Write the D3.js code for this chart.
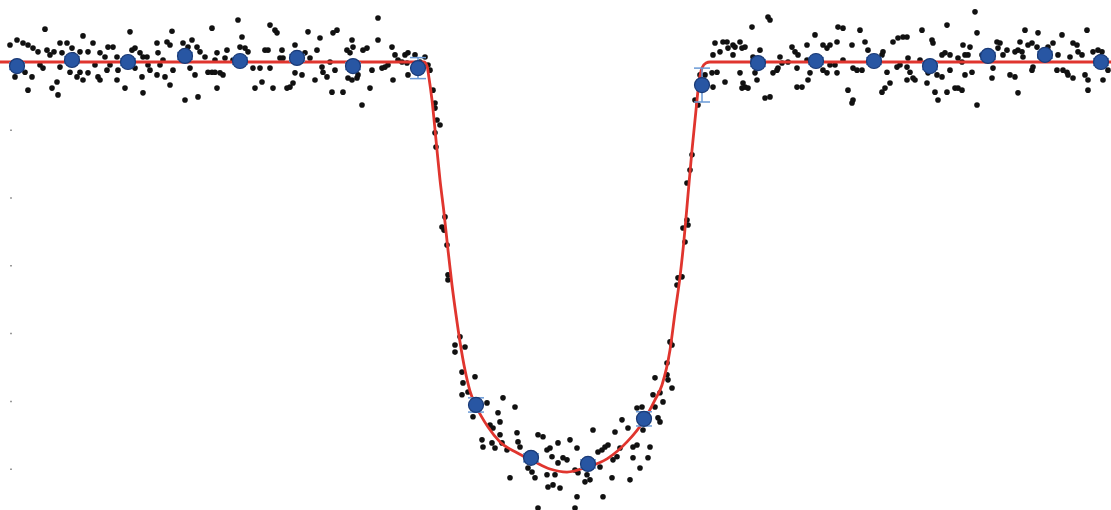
<!DOCTYPE html>
<html>
<head>
<meta charset="utf-8">
<script src="https://cdn.jsdelivr.net/npm/d3@7"></script>
<style>
  html, body { margin: 0; padding: 0; background: #fff; }
  svg { display: block; }
</style>
</head>
<body>
<svg id="chart" width="1111" height="510"></svg>
<script>
// time from mid-transit (hours), flux change (ppm)
const obsTime = [
  -5.50,-5.43,-5.37,-5.32,-5.27,-5.22,-5.15,-5.13,-5.10,-5.06,-5.00,-4.93,-4.98,-4.88,-4.87,-4.80,-4.77,-4.72,-4.67,-4.60,
  -4.55,-4.52,-4.47,-4.43,-4.30,-4.28,-4.25,-4.20,-4.17,-4.13,-4.03,-4.02,-3.97,-3.93,-3.90,-3.88,-3.77,-3.72,-3.68,-3.63,
  -3.60,-3.55,-3.48,-3.45,-5.45,-5.35,-5.28,-5.32,-5.20,-5.17,-5.08,-5.03,-5.02,-5.00,-4.90,-4.83,-4.80,-4.77,-4.72,-4.65,
  -4.62,-4.60,-4.53,-4.50,-4.43,-4.42,-4.35,-4.25,-4.18,-4.17,-4.12,-4.10,-4.03,-4.00,-3.95,-3.90,-3.87,-3.75,-3.70,-3.65,
  -3.62,-3.52,-3.48,-3.45,-3.43,
  -3.43,-3.33,-3.35,-3.40,-3.37,-3.27,-3.22,-3.18,-3.20,-3.15,-3.12,-3.07,-3.00,-3.05,-2.98,-2.95,-2.92,-2.90,-2.90,-2.85,
  -2.83,-2.87,-2.80,-2.77,-2.78,-2.73,-2.70,-2.67,-2.65,-2.65,-2.58,-2.55,-2.52,-2.50,-2.45,-2.43,-2.40,-2.38,-2.37,-2.33,
  -2.30,-2.28,-2.27,-2.23,-2.25,-2.17,-2.13,-2.10,-2.08,-2.07,-2.12,-2.08,-2.03,-2.02,-1.97,-1.93,-1.90,-1.88,-1.98,-1.82,
  -1.82,-1.78,-1.75,-1.72,-1.68,-1.67,-1.65,-1.62,-1.58,-1.55,-1.52,-1.53,-1.52,-1.45,-1.40,-1.35,-1.32,-1.30,
  -1.27,-1.25,-1.25,-1.23,-1.20,-1.25,-1.24,-1.15,-1.18,-1.16,-1.13,-1.12,-1.12,-1.00,-1.05,-0.95,-1.05,-0.98,-0.85,-0.97,
  -0.98,-0.92,-0.73,-0.57,
  -0.45,-0.87,-0.62,-0.70,-0.67,-0.60,-0.78,-0.77,-0.68,-0.65,-0.60,-0.58,-0.53,-0.43,-0.42,-0.40,-0.22,-0.17,-0.33,-0.32,
  -0.50,-0.32,-0.28,-0.25,-0.13,-0.10,-0.08,-0.02,0.03,0.10,0.17,-0.02,-0.13,-0.05,-0.12,-0.07,0.00,0.07,0.15,0.18,
  0.17,-0.22,0.15,0.27,0.25,0.30,0.33,0.38,0.42,0.45,0.48,0.40,0.43,0.53,0.57,0.52,0.55,0.60,0.62,0.68,
  0.70,0.73,0.77,0.73,0.77,0.82,0.88,0.80,0.98,1.00,0.93,0.95,1.03,1.07,1.12,0.90,0.83,
  1.00,0.95,1.08,1.10,1.12,1.07,1.17,1.18,1.22,1.23,1.25,1.27,1.28,1.27,1.30,1.32,1.35,1.38,1.40,1.45,
  1.52,1.53,
  1.53,1.55,1.57,1.60,1.63,1.67,1.65,1.68,1.73,1.75,1.73,1.80,1.82,1.85,1.80,1.82,1.85,1.83,1.88,1.92,
  1.93,1.95,1.97,2.00,2.08,2.10,2.05,2.10,2.13,2.17,2.18,2.20,2.22,2.28,2.32,2.35,2.38,2.37,2.37,2.42,
  2.47,2.47,2.48,2.50,2.55,2.63,2.67,2.63,2.67,2.70,2.70,2.75,2.78,2.83,2.77,2.77,2.83,2.88,2.92,2.93,
  2.97,3.02,2.93,2.92,3.00,3.05,3.08,3.22,3.23,3.27,3.22,3.25,3.30,3.33,3.38,3.43,3.37,3.40,
  3.47,3.47,3.48,3.50,3.53,3.47,3.55,3.62,3.60,3.72,3.73,3.67,3.68,3.75,3.78,3.77,3.82,3.82,3.85,3.90,
  3.87,3.87,3.90,3.95,3.98,4.02,3.98,4.02,4.05,4.08,4.03,4.10,4.05,4.12,4.15,4.17,4.17,4.22,4.25,4.32,
  4.33,4.37,4.40,4.38,4.43,4.47,4.50,4.55,4.55,4.58,4.62,4.58,4.60,4.65,4.63,4.68,4.72,4.72,4.73,4.78,
  4.77,4.80,4.88,4.93,4.97,4.98,5.02,5.03,5.07,5.08,5.10,5.13,5.17,5.13,5.18,5.22,5.25,5.27,5.28,5.28,
  5.33,5.38,5.42,5.40,5.43,5.48
];
const obsFlux = [
  500,650,560,500,410,300,970,350,210,300,560,560,270,410,210,300,770,300,560,270,
  150,440,440,150,890,350,410,270,150,150,560,270,60,590,500,910,560,440,650,440,
  300,150,1000,60,-440,-300,-440,-830,-90,-180,-770,-590,-970,-150,-300,-440,-300,-530,-320,-90,
  -440,-530,-240,-90,-530,-240,-770,-180,-440,-910,-90,-240,-380,-90,-440,-680,-240,-1120,-180,-380,
  -1030,-300,-300,-300,-770,
  270,350,120,-320,-380,60,1240,740,440,410,300,-180,-180,-770,-590,350,350,-180,1090,940,
  860,-770,120,120,350,-770,-740,-620,500,-320,-380,270,890,120,-530,350,710,-150,-300,-440,
  0,-890,860,940,-240,-890,350,270,650,440,-470,-530,-470,-380,350,410,-770,-240,-1270,1300,
  650,-180,-150,-90,440,-530,210,60,0,210,270,-30,-380,210,0,150,-90,-240,
  -830,-1210,-1360,-1710,-1860,-2090,-2510,-4570,-4870,-4960,-5400,-6280,-6430,-8110,-8350,-8410,-8560,-9150,-9290,-9470,
  -9820,-9740,-10060,-9910,
  -10180,-10470,-10350,-10710,-10800,-10620,-11150,-11360,-11240,-11390,-11000,-11240,-11450,-10940,-11210,-11360,-11000,-11060,-11590,-11740,
  -12270,-11980,-12100,-12270,-11450,-11390,-11650,-11240,-11680,-11150,-11390,-11830,-12180,-12180,-12540,-12480,-12570,-11740,-12040,-12120,
  -12830,-13160,-13160,-12180,-12390,-12330,-10860,-11510,-11450,-11360,-11300,-11950,-12830,-11740,-11650,-12270,-10920,-11390,-10560,-10800,
  -12330,-11360,-11300,-11680,-10210,-10180,-11680,-11980,-10500,-10620,-9820,-9320,-10030,-9230,-9620,-11360,-10860,
  -9760,-10180,-9380,-8260,-8350,-8880,-6580,-6370,-6340,-4900,-5310,-4660,-4810,-3570,-3190,-2740,-1120,-1270,-380,-380,
  -320,-740,
  210,560,-300,300,590,590,-590,410,500,440,210,590,410,440,-320,-770,-740,-620,-770,1030,
  150,-320,-530,350,1330,1240,-1060,-1030,-320,-240,-180,150,-30,0,440,300,210,-180,-740,-740,
  500,60,-530,-320,800,500,410,-240,-320,500,-90,-90,1030,1000,590,-320,60,-830,500,-180,
  -240,-240,-1120,-1210,940,590,350,210,300,-300,-890,-770,-620,590,710,740,-150,-90,
  740,-150,120,-300,-470,-530,-530,940,60,650,560,-620,-320,-890,-1120,-380,-440,210,270,210,
  1090,-890,-240,-770,-770,-830,120,0,210,210,500,440,-380,-300,1480,860,-1270,210,270,-470,
  -180,590,560,410,210,350,-380,-440,300,350,300,-910,590,940,150,500,560,-240,-150,860,
  440,150,440,560,-240,210,800,-240,-300,-380,150,560,500,-470,300,210,-380,940,-530,-830,
  300,350,300,150,-530,-240
];

// binned averages with error bars
const binTime = [-5.43,-4.88,-4.32,-3.75,-3.20,-2.63,-2.07,-1.42,-0.84,-0.29,0.28,0.84,1.42,1.98,2.56,3.14,3.70,4.28,4.85,5.41];
const binFlux = [-120,60,0,180,30,120,-120,-180,-10120,-11680,-11860,-10530,-680,-30,30,30,-120,180,210,0];
const binErr  = [100,100,100,100,100,100,100,310,210,120,120,210,500,100,100,100,100,100,100,100];

// fitted transit model
const modelTime = [-5.60,-1.36,-1.33,-1.31,-1.28,-1.24,-1.20,-1.16,-1.12,-1.08,-1.04,-1.00,-0.95,-0.90,-0.84,-0.72,-0.60,-0.43,-0.27,-0.10,
  0.07,0.27,0.47,0.67,0.83,0.95,1.02,1.10,1.15,1.20,1.24,1.28,1.32,1.36,1.39,1.42,1.46,1.50,5.51];
const modelFlux = [0,0,-120,-470,-1120,-2300,-3480,-4450,-5550,-6580,-7460,-8260,-9090,-9710,-10150,-10770,-11210,-11530,-11770,-12010,
  -12100,-11950,-11710,-11210,-10620,-9970,-9530,-8500,-7400,-6340,-5250,-3920,-2600,-1420,-590,-180,-30,0,0];

const yTicks = [-2000,-4000,-6000,-8000,-10000,-12000];

const svg = d3.select("#chart"),
    width = +svg.attr("width"),
    height = +svg.attr("height");

const x = d3.scaleLinear().domain([-5.60, 5.51]).range([0, width]);
const y = d3.scaleLinear().domain([1830, -13220]).range([0, height]);

// faint tick marks on the left edge
svg.append("g")
    .attr("transform", "translate(12,0)")
    .call(d3.axisLeft(y).tickValues(yTicks).tickSize(2).tickFormat(""))
    .call(g => g.select(".domain").remove())
    .call(g => g.selectAll(".tick line").attr("stroke", "#9a9a9a").attr("stroke-width", 1.5));

// raw photometry
const obs = obsTime.map((t, i) => ({ t: t, f: obsFlux[i] }));
svg.append("g")
    .selectAll("circle")
    .data(obs)
    .enter()
    .append("circle")
    .attr("cx", d => x(d.t))
    .attr("cy", d => y(d.f))
    .attr("r", 2.8)
    .attr("fill", "#111");

// model curve
const model = modelTime.map((t, i) => ({ t: t, f: modelFlux[i] }));
const line = d3.line()
    .x(d => x(d.t))
    .y(d => y(d.f))
    .curve(d3.curveMonotoneX);

svg.append("path")
    .datum(model)
    .attr("d", line)
    .attr("fill", "none")
    .attr("stroke", "#e0352e")
    .attr("stroke-width", 2.8);

// binned points
const bins = binTime.map((t, i) => ({ t: t, f: binFlux[i], e: binErr[i] }));
const eb = svg.append("g")
    .attr("stroke", "#6a9ad6")
    .attr("stroke-width", 1.5);

eb.selectAll(".v")
    .data(bins)
    .enter()
    .append("line")
    .attr("x1", d => x(d.t)).attr("x2", d => x(d.t))
    .attr("y1", d => y(d.f + d.e)).attr("y2", d => y(d.f - d.e));

eb.selectAll(".cap")
    .data(bins.flatMap(d => [{ t: d.t, f: d.f + d.e }, { t: d.t, f: d.f - d.e }]))
    .enter()
    .append("line")
    .attr("x1", d => x(d.t) - 8).attr("x2", d => x(d.t) + 8)
    .attr("y1", d => y(d.f)).attr("y2", d => y(d.f));

svg.append("g")
    .selectAll("circle")
    .data(bins)
    .enter()
    .append("circle")
    .attr("cx", d => x(d.t))
    .attr("cy", d => y(d.f))
    .attr("r", 7.5)
    .attr("fill", "#2856a3")
    .attr("stroke", "#1a3a76")
    .attr("stroke-width", 1.2);
</script>
</body>
</html>
